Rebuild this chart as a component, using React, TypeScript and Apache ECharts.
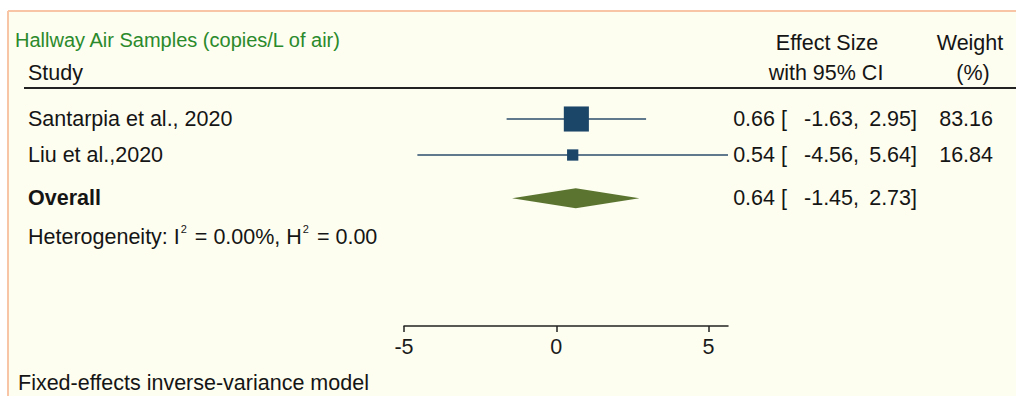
import React, { useEffect, useRef } from "react";
import * as echarts from "echarts";

const studies = ["Santarpia et al., 2020", "Liu et al.,2020"];
const effectSizes = [0.66, 0.54];
const ciLower = [-1.63, -4.56];
const ciUpper = [2.95, 5.64];
const weights = [83.16, 16.84];
const studyRows = [1, 2];
const overallLabel = "Overall";
const overallEffect = 0.64;
const overallLower = -1.45;
const overallUpper = 2.73;
const overallRow = 3.2;
const xTicks = [-5, 0, 5];
const xMin = -5;
const xMax = 5.64;
const titleText = "Hallway Air Samples (copies/L of air)";
const footText = "Fixed-effects inverse-variance model";

const fmt = (v: number) => v.toFixed(2);

export default function App() {
  const ref = useRef<HTMLDivElement>(null);
  useEffect(() => {
    const el = ref.current!;
    const chart = echarts.init(el, null, { renderer: "svg" });
    const FONT = "'Liberation Sans', Arial, sans-serif";
    const FS = 21.5;
    const lineColor = "#2b4c6c";
    const squareColor = "#1c4668";
    const diamondColor = "#5b7530";
    const textColor = "#151515";

    chart.setOption({
      animation: false,
      backgroundColor: "#fdfdf0",
      grid: { left: 404, right: 288, top: 83, bottom: 70 },
      xAxis: {
        type: "value",
        min: xMin,
        max: xMax,
        position: "bottom",
        splitLine: { show: false },
        axisLine: { show: true, onZero: false, lineStyle: { color: "#222", width: 1.5 } },
        axisTick: { show: true, length: 6, customValues: xTicks, lineStyle: { color: "#222", width: 1.5 } },
        axisLabel: { customValues: xTicks, fontSize: FS, color: "#1a1a1a", fontFamily: FONT, margin: 10 },
      },
      yAxis: { type: "value", min: 0, max: 6.75, inverse: true, show: false },
      series: [
        {
          type: "custom",
          clip: false,
          z: 2,
          data: studies.map((_, i) => [ciLower[i], ciUpper[i], studyRows[i]]),
          encode: { x: [0, 1], y: 2 },
          renderItem: (params: any, api: any) => {
            const a = api.coord([api.value(0), api.value(2)]);
            const b = api.coord([api.value(1), api.value(2)]);
            return {
              type: "line",
              shape: { x1: a[0], y1: a[1], x2: b[0], y2: b[1] },
              style: { stroke: lineColor, lineWidth: 1.5 },
            };
          },
        },
        {
          type: "scatter",
          z: 3,
          symbol: "rect",
          symbolSize: (v: number[]) => 2.75 * Math.sqrt(v[2]),
          itemStyle: { color: squareColor, opacity: 1 },
          data: studies.map((_, i) => [effectSizes[i], studyRows[i], weights[i]]),
        },
        {
          type: "custom",
          clip: false,
          z: 3,
          data: [[overallLower, overallEffect, overallUpper, overallRow]],
          encode: { x: [0, 1, 2], y: 3 },
          renderItem: (params: any, api: any) => {
            const l = api.coord([api.value(0), api.value(3)]);
            const c = api.coord([api.value(1), api.value(3)]);
            const r = api.coord([api.value(2), api.value(3)]);
            const h = 10;
            return {
              type: "polygon",
              shape: { points: [[l[0], l[1]], [c[0], c[1] - h], [r[0], r[1]], [c[0], c[1] + h]] },
              style: { fill: diamondColor },
            };
          },
        },
      ],
    });

    const yOf = (row: number) => chart.convertToPixel({ gridIndex: 0 } as any, [0, row])[1];
    const txt = (text: string, x: number, y: number, align: string, extra: any = {}) => ({
      type: "text",
      z: 10,
      style: {
        text,
        x,
        y,
        fill: textColor,
        font: `${FS}px ${FONT}`,
        textAlign: align,
        align,
        textVerticalAlign: "middle",
        verticalAlign: "middle",
        ...extra,
      },
    });

    const graphics: any[] = [
      { type: "rect", z: 5, shape: { x: 0, y: 0, width: 1016, height: 11 }, style: { fill: "#ffffff" } },
      { type: "rect", z: 5, shape: { x: 0, y: 0, width: 8, height: 396 }, style: { fill: "#ffffff" } },
      { type: "line", z: 6, shape: { x1: 8, y1: 11, x2: 1016, y2: 11 }, style: { stroke: "#f8c6a6", lineWidth: 2 } },
      { type: "line", z: 6, shape: { x1: 8, y1: 11, x2: 8, y2: 396 }, style: { stroke: "#f8c6a6", lineWidth: 2 } },
      txt(titleText, 15, 40, "left", { fill: "#2b8a2b", font: `20px ${FONT}` }),
      txt("Study", 28, 73, "left"),
      txt("Effect Size", 827, 43, "center"),
      txt("with 95% CI", 826, 73, "center"),
      txt("Weight", 970, 43, "center"),
      txt("(%)", 973, 73, "center"),
      { type: "line", z: 6, shape: { x1: 24, y1: 88, x2: 1016, y2: 88 }, style: { stroke: "#222", lineWidth: 2 } },
    ];

    const ciParts = (es: number, lo: number, hi: number, y: number) => [
      txt(fmt(es), 775, y, "right"),
      txt("[", 781, y, "left"),
      txt(fmt(lo) + ",", 859, y, "right"),
      txt(fmt(hi) + "]", 917, y, "right"),
    ];

    studies.forEach((name, i) => {
      const y = yOf(studyRows[i]);
      graphics.push(txt(name, 28, y, "left"));
      graphics.push(...ciParts(effectSizes[i], ciLower[i], ciUpper[i], y));
      graphics.push(txt(fmt(weights[i]), 993, y, "right"));
    });
    const yo = yOf(overallRow);
    graphics.push(txt(overallLabel, 28, yo, "left", { font: `bold ${FS}px ${FONT}` }));
    graphics.push(...ciParts(overallEffect, overallLower, overallUpper, yo));

    graphics.push({
      type: "text",
      z: 10,
      style: {
        text: "{m|Heterogeneity: I}{s|2}{m| = 0.00%, H}{s|2}{m| = 0.00}",
        x: 28,
        y: 237,
        textVerticalAlign: "middle",
        verticalAlign: "middle",
        fill: textColor,
        font: `${FS}px ${FONT}`,
        rich: {
          m: { fontSize: FS, fontFamily: FONT, fill: textColor, color: textColor, lineHeight: 28, verticalAlign: "middle" },
          s: { fontSize: 11, fontFamily: FONT, fill: textColor, color: textColor, lineHeight: 13, verticalAlign: "top", padding: [0, 2, 0, 1] },
        },
      },
    });
    graphics.push(txt(footText, 18, 383, "left"));

    chart.setOption({ graphic: graphics });

    return () => chart.dispose();
  }, []);

  return (
    <div
      ref={ref}
      style={{ position: "absolute", left: 0, top: 0, width: 1016, height: 396 }}
    />
  );
}
